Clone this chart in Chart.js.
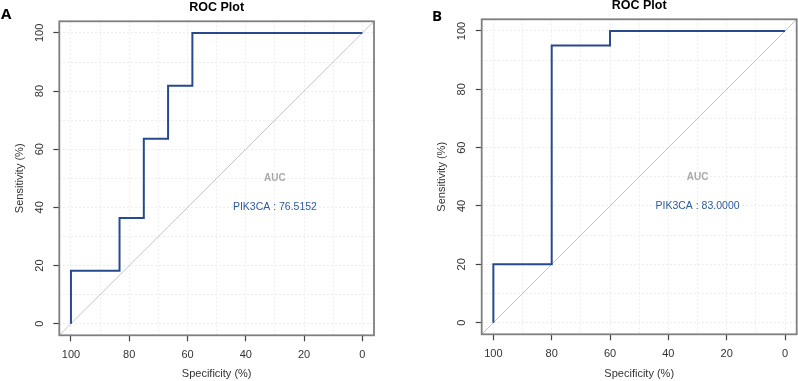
<!DOCTYPE html>
<html>
<head>
<meta charset="utf-8">
<script src="https://cdn.jsdelivr.net/npm/chart.js@4.4.1/dist/chart.umd.min.js"></script>
<style>
  body { margin: 0; background: #fff; }
  #wrap { position: relative; width: 798px; height: 381px; }
  canvas { position: absolute; top: 0; }
</style>
</head>
<body>
<div id="wrap">
  <canvas id="chartA" width="399" height="381" style="left:0"></canvas>
  <canvas id="chartB" width="399" height="381" style="left:399px"></canvas>
</div>
<script>
// panel A - ROC steps (specificity %, sensitivity %)
var specA = [100, 100, 83.33, 83.33, 75, 75, 66.67, 66.67, 58.33, 58.33, 0];
var sensA = [0, 18.18, 18.18, 36.36, 36.36, 63.64, 63.64, 81.82, 81.82, 100, 100];
var aucA = 'PIK3CA : 76.5152';

// panel B
var specB = [100, 100, 80, 80, 60, 60, 0];
var sensB = [0, 20, 20, 95, 95, 100, 100];
var aucB = 'PIK3CA : 83.0000';

// reference diagonal, drawn out to the axis limits
var diagSpec = [104, -4];
var diagSens = [-4, 104];

var gridValues = [0, 10, 20, 30, 40, 50, 60, 70, 80, 90, 100];
var labelValues = [0, 20, 40, 60, 80, 100];

var FONT = '"Liberation Sans", Arial, sans-serif';

function toPoints(xs, ys) {
    return xs.map(function(x, i) { return {x: x, y: ys[i]}; });
}

function tickCol(c) {
    return (c.tick && labelValues.indexOf(c.tick.value) >= 0) ? '#444' : 'rgba(0,0,0,0)';
}

var rocDecor = {
    id: 'rocDecor',
    afterDraw: function(chart, args, opts) {
        var ctx = chart.ctx, area = chart.chartArea;
        var xs = chart.scales.x, ys = chart.scales.y;
        ctx.save();
        // box round the plot
        ctx.strokeStyle = '#7f7f7f';
        ctx.lineWidth = 1.8;
        ctx.strokeRect(area.left, area.top, area.right - area.left, area.bottom - area.top);
        // title
        ctx.fillStyle = '#000';
        ctx.font = 'bold 12.5px ' + FONT;
        ctx.textAlign = 'center';
        ctx.textBaseline = 'middle';
        ctx.fillText('ROC Plot', (area.left + area.right) / 2, area.top - 14);
        // panel letter
        ctx.font = 'bold 15px "Open Sans", sans-serif';
        ctx.textAlign = 'left';
        ctx.textBaseline = 'alphabetic';
        ctx.fillText(opts.letter, opts.letterX, opts.letterY);
        // y tick labels, rotated like R
        ctx.font = '11px ' + FONT;
        ctx.fillStyle = '#333';
        labelValues.forEach(function(v) {
            ctx.save();
            ctx.translate(area.left - 19.5, ys.getPixelForValue(v));
            ctx.rotate(-Math.PI / 2);
            ctx.textAlign = 'center';
            ctx.textBaseline = 'middle';
            ctx.fillText(String(v), 0, 0);
            ctx.restore();
        });
        // AUC text
        ctx.textAlign = 'center';
        ctx.textBaseline = 'middle';
        ctx.font = 'bold 10px ' + FONT;
        ctx.fillStyle = '#a9a9a9';
        ctx.fillText('AUC', xs.getPixelForValue(30), ys.getPixelForValue(50));
        ctx.font = '10.5px ' + FONT;
        ctx.fillStyle = '#2f5b9a';
        ctx.fillText(opts.aucText, xs.getPixelForValue(30), ys.getPixelForValue(40));
        ctx.restore();
    }
};

function makeChart(id, spec, sens, aucText, letter, geo) {
    return new Chart(document.getElementById(id), {
        type: 'line',
        data: {
            datasets: [{
                data: toPoints(spec, sens),
                borderColor: '#26498f',
                borderWidth: 2,
                pointRadius: 0,
                tension: 0,
                fill: false
            }, {
                data: toPoints(diagSpec, diagSens),
                borderColor: '#c4c4c4',
                borderWidth: 1,
                pointRadius: 0,
                fill: false
            }]
        },
        options: {
            responsive: false,
            animation: false,
            layout: { padding: { left: geo.L, right: geo.R, top: geo.T, bottom: 0 } },
            plugins: {
                legend: { display: false },
                tooltip: { enabled: false },
                rocDecor: { letter: letter, letterX: geo.lx, letterY: geo.ly, aucText: aucText }
            },
            scales: {
                x: {
                    type: 'linear',
                    min: -4, max: 104,
                    reverse: true,
                    afterBuildTicks: function(s) { s.ticks = gridValues.map(function(v) { return {value: v}; }); },
                    afterFit: function(s) { s.height = geo.xH; },
                    grid: { color: '#ededed', lineWidth: 1, drawTicks: true, tickLength: 6, tickWidth: 1.2, tickColor: tickCol },
                    border: { display: false, dash: [2, 2] },
                    ticks: {
                        autoSkip: false, maxRotation: 0, padding: 7, color: '#333',
                        font: { family: FONT, size: 11 },
                        callback: function(v) { return labelValues.indexOf(v) >= 0 ? String(v) : ''; }
                    },
                    title: { display: true, text: 'Specificity (%)', color: '#333', font: { family: FONT, size: 11 }, padding: { top: 0, bottom: 0 } }
                },
                y: {
                    type: 'linear',
                    min: -4, max: 104,
                    afterBuildTicks: function(s) { s.ticks = gridValues.map(function(v) { return {value: v}; }); },
                    afterFit: function(s) { s.width = geo.yW; },
                    grid: { color: '#ededed', lineWidth: 1, drawTicks: true, tickLength: 6, tickWidth: 1.2, tickColor: tickCol },
                    border: { display: false, dash: [2, 2] },
                    ticks: { display: false },
                    title: { display: true, text: 'Sensitivity (%)', color: '#333', font: { family: FONT, size: 11 }, padding: { top: 13.5, bottom: 0 } }
                }
            }
        },
        plugins: [rocDecor]
    });
}

makeChart('chartA', specA, sensA, aucA, 'A', { L: 0, R: 25, T: 21.3, yW: 59.3, xH: 45.7, lx: 1, ly: 19 });
makeChart('chartB', specB, sensB, aucB, 'B', { L: 23, R: 1.3, T: 19.3, yW: 59.7, xH: 46.7, lx: 33, ly: 21 });
</script>
</body>
</html>
